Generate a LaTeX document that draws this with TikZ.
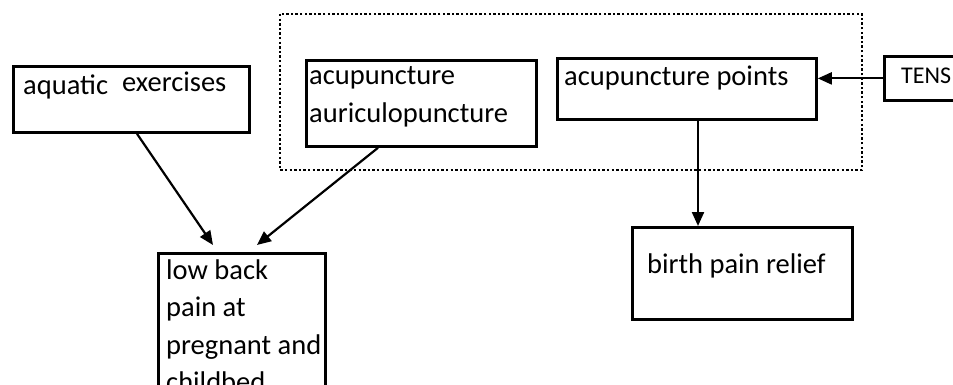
\documentclass[tikz,border=0pt]{standalone}
\usepackage{fontspec}
\setmainfont{Carlito}
\usetikzlibrary{arrows.meta,calc}
\newcommand{\lines}[1]{\begin{tabular}[t]{@{}l@{}}#1\end{tabular}}
\begin{document}
\begin{tikzpicture}[x=1pt,y=-1pt,
  box/.style={draw=black,line width=2.8pt,inner sep=0pt},
  txt/.style={anchor=base west,inner sep=0pt,font=\fontsize{28.5}{37.5}\selectfont},
  arr/.style={line width=2.2pt,-{Triangle[length=14pt,width=12pt]}},
  dotbox/.style={draw=black,line width=2.6pt,dash pattern=on 2.4pt off 2.2pt}]
\clip (0,0) rectangle (953,385);
\fill[white] (0,0) rectangle (953,385);
% dotted group
\draw[dotbox] (280,14) rectangle (862,170);
% boxes
\node[box,minimum width=236pt,minimum height=66pt,anchor=north west] (aq) at (12,65) {};
\node[box,minimum width=230pt,minimum height=86pt,anchor=north west] (acu) at (305,59) {};
\node[box,minimum width=259pt,minimum height=61pt,anchor=north west] (pts) at (556,57) {};
\node[box,minimum width=100pt,minimum height=44pt,anchor=north west] (tens) at (883,55) {};
\node[box,minimum width=220pt,minimum height=92pt,anchor=north west] (birth) at (631,226) {};
\node[box,minimum width=167pt,minimum height=180pt,anchor=north west] (low) at (157,252) {};
% texts
\node[txt] (taq) at (23,95) {aquatic};
\node[txt] (taq2) at (122,92) {exercises};
\node[txt] (tacu) at (309,85) {\lines{acupuncture\\auriculopuncture}};
\node[txt] (tpts) at (564,86) {acupuncture points};
\node[txt,font=\fontsize{24}{25}\selectfont] (ttens) at (901,84) {TENS};
\node[txt] (tbirth) at (647,273) {birth pain relief};
\node[txt] (tlow) at (166,279) {\lines{low back\\pain at\\pregnant and\\childbed}};
% connectors
\coordinate (aqout) at ($(aq.south west)+(125,0)$);
\coordinate (lowin1) at ($(low.north west)+(56,-7)$);
\coordinate (acuout) at ($(acu.south west)+(73,0)$);
\coordinate (lowin2) at ($(low.north west)+(100,-7)$);
\coordinate (ptsout) at ($(pts.south west)+(142,0)$);
\draw[arr] (aqout) -- (lowin1);
\draw[arr] (acuout) -- (lowin2);
\draw[arr] (ptsout) -- (ptsout |- birth.north);
\draw[arr] (tens.west) -- (tens.west -| pts.east);
\end{tikzpicture}
\end{document}
